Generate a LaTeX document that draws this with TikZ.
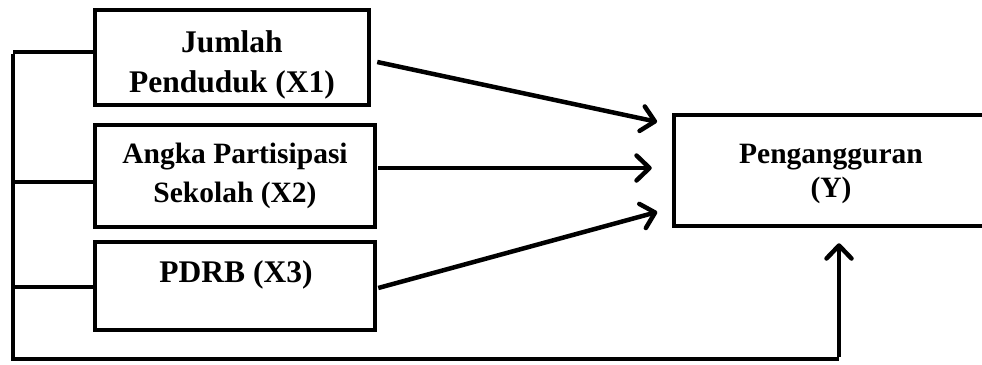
\documentclass[tikz,border=0pt]{standalone}
\usepackage{fontspec}
\setmainfont{Liberation Serif}
\usetikzlibrary{arrows.meta}
\tikzset{
  boxst/.style={draw, line width=4.5pt, rectangle, inner sep=0pt},
  txtA/.style={font=\bfseries\fontsize{31.5}{39}\selectfont, anchor=base, align=center, inner sep=0pt},
  txtB/.style={font=\bfseries\fontsize{29.5}{39}\selectfont, anchor=base, align=center, inner sep=0pt},
  wire/.style={line width=4.5pt},
  arr/.style={line width=4.5pt, -{Straight Barb[length=13pt,width=25pt,line cap=round,line join=round]}},
}
\begin{document}
\begin{tikzpicture}[x=1pt,y=-1pt]
\useasboundingbox (0,0) rectangle (982,364);
\clip (0,0) rectangle (982,364);
% boxes
\node[boxst, minimum width=274pt, minimum height=95pt] (x1) at (232,57.5) {};
\node[boxst, minimum width=280pt, minimum height=102pt] (x2) at (235,176) {};
\node[boxst, minimum width=280pt, minimum height=88pt] (x3) at (235,286) {};
\node[boxst, minimum width=324pt, minimum height=111pt] (y) at (836,170.5) {};
% texts
\node[txtA] (t1a) at (232,52) {Jumlah};
\node[txtA] (t1b) at (232,92) {Penduduk (X1)};
\node[txtB] (t2a) at (235,163) {Angka Partisipasi};
\node[txtB] (t2b) at (235,202) {Sekolah (X2)};
\node[txtA] (t3) at (236,282) {PDRB (X3)};
\node[font=\bfseries\fontsize{29.5}{34}\selectfont, anchor=base, inner sep=0pt] (tya) at (831,163) {Pengangguran};
\node[font=\bfseries\fontsize{29.5}{34}\selectfont, anchor=base, inner sep=0pt] (tyb) at (831,197) {(Y)};
% bus coordinates
\coordinate (tl) at (13,52);
\coordinate (s2) at (13,182);
\coordinate (s3) at (13,287);
\coordinate (bl) at (13,359);
\coordinate (br) at (839,359);
% wires
\draw[wire] (tl) -- (tl -| x1.west);
\draw[wire] (s2) -- (s2 -| x2.west);
\draw[wire] (s3) -- (s3 -| x3.west);
\draw[wire, line join=miter] ([yshift=-2pt]tl) -- (bl) -- (br);
\draw[arr, shorten >=15pt] ([yshift=2pt]br) -- (br |- y.south);
% arrows
\draw[arr, shorten >=15pt] ([xshift=6pt,yshift=-4.5pt]x1.east) -- ([yshift=45.5pt]y.west);
\draw[arr, shorten >=20pt] ([xshift=1pt,yshift=8pt]x2.east) -- ([yshift=2.5pt]y.west);
\draw[arr, shorten >=15pt] ([xshift=1pt,yshift=-2pt]x3.east) -- ([yshift=-37.5pt]y.west);
\end{tikzpicture}
\end{document}
